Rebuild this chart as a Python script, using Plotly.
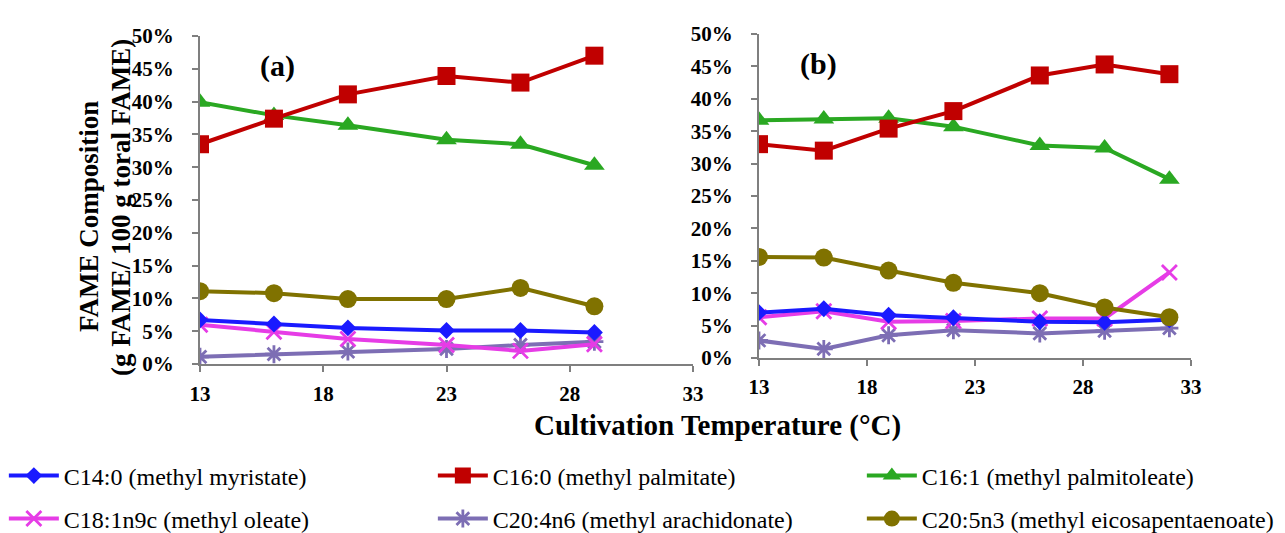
import plotly.graph_objects as go

# ---------------- data ----------------
temps_a = [13, 16, 19, 23, 26, 29]
temps_b = [13, 16, 19, 22, 26, 29, 32]

names = ["C14:0 (methyl myristate)", "C16:0 (methyl palmitate)", "C16:1 (methyl palmitoleate)",
         "C18:1n9c (methyl oleate)", "C20:4n6 (methyl arachidonate)", "C20:5n3 (methyl eicosapentaenoate)"]

a_c14_0 = [6.7, 6.1, 5.5, 5.1, 5.1, 4.8]
a_c16_0 = [33.5, 37.4, 41.1, 43.9, 42.9, 47.0]
a_c16_1 = [39.9, 37.9, 36.4, 34.2, 33.5, 30.3]
a_c18_1 = [6.0, 4.9, 3.8, 2.9, 2.0, 3.0]
a_c20_4 = [1.1, 1.5, 1.9, 2.3, 2.9, 3.4]
a_c20_5 = [11.1, 10.8, 9.9, 9.9, 11.6, 8.8]

b_c14_0 = [7.0, 7.6, 6.6, 6.2, 5.6, 5.5, 5.9]
b_c16_0 = [33.0, 32.0, 35.4, 38.1, 43.6, 45.3, 43.8]
b_c16_1 = [36.7, 36.9, 37.0, 35.7, 32.8, 32.4, 27.6]
b_c18_1 = [6.3, 7.2, 5.6, 5.7, 6.1, 6.1, 13.2]
b_c20_4 = [2.7, 1.4, 3.5, 4.3, 3.8, 4.2, 4.6]
b_c20_5 = [15.6, 15.5, 13.5, 11.6, 10.0, 7.8, 6.3]

x_ticks = [13, 18, 23, 28, 33]

# ---------------- styles ----------------
colors = ["#1a1aff", "#c00000", "#2aa822", "#e63ce6", "#7d6eb4", "#807200"]
symbols = ["diamond", "square", "triangle-up", "x-thin-open", "asterisk-open", "circle"]
sizes = [13, 18, 18, 15, 15, 18]
legend_ids = ["legend", "legend", "legend", "legend2", "legend2", "legend2"]

SERIF = "Liberation Serif"

fig = go.Figure()

panel_a = [a_c14_0, a_c16_0, a_c16_1, a_c18_1, a_c20_4, a_c20_5]
panel_b = [b_c14_0, b_c16_0, b_c16_1, b_c18_1, b_c20_4, b_c20_5]

order = [4, 3, 0, 5, 2, 1]
for i in order:
    mk = dict(symbol=symbols[i], size=sizes[i], color=colors[i],
              line=dict(color=colors[i], width=2.8 if i in (3, 4) else 0))
    fig.add_trace(go.Scatter(x=temps_a, y=panel_a[i], mode="lines+markers", name=names[i],
                             line=dict(color=colors[i], width=4), marker=mk,
                             xaxis="x", yaxis="y", legend=legend_ids[i], legendrank=i))
    fig.add_trace(go.Scatter(x=temps_b, y=panel_b[i], mode="lines+markers", name=names[i],
                             line=dict(color=colors[i], width=4), marker=mk,
                             xaxis="x2", yaxis="y2", showlegend=False))

W, H = 1285, 533

def px_x(p):
    return p / W

def px_y(p):
    return 1 - p / H

axis_common = dict(showgrid=False, zeroline=False, showline=True, linecolor="#7f7f7f", linewidth=2,
                   ticks="outside", tickcolor="#7f7f7f", ticklen=6, tickwidth=2,
                   tickfont=dict(family=SERIF, size=21, color="black", weight="bold"))

leg_common = dict(orientation="h", x=0.003, xanchor="left", yanchor="middle",
                  entrywidth=364, entrywidthmode="pixels", itemwidth=50,
                  font=dict(family=SERIF, size=24, color="black"), bgcolor="rgba(0,0,0,0)",
                  traceorder="normal")

fig.update_layout(
    width=W, height=H, margin=dict(l=0, r=0, t=0, b=0, autoexpand=False),
    paper_bgcolor="white", plot_bgcolor="white",
    font=dict(family=SERIF, color="black"),
    xaxis=dict(axis_common, domain=[px_x(200), px_x(693)], range=[13, 33], tickvals=x_ticks,
               anchor="y", ticklabelstandoff=4),
    yaxis=dict(axis_common, domain=[px_y(364), px_y(36)], range=[0, 50], dtick=5, ticksuffix="%",
               anchor="x", ticklabelstandoff=14),
    xaxis2=dict(axis_common, domain=[px_x(759), px_x(1191)], range=[13, 33], tickvals=x_ticks,
                anchor="y2", ticklabelstandoff=3),
    yaxis2=dict(axis_common, domain=[px_y(358), px_y(34)], range=[0, 50], dtick=5, ticksuffix="%",
                anchor="x2", ticklabelstandoff=14),
    legend=dict(leg_common, y=px_y(476)),
    legend2=dict(leg_common, y=px_y(519)),
    showlegend=True,
)

bold = dict(family=SERIF, color="black")
fig.add_annotation(x=px_x(258), y=px_y(47), xref="paper", yref="paper", text="<b>(a)</b>",
                   showarrow=False, font=dict(bold, size=30))
fig.add_annotation(x=px_x(818), y=px_y(45), xref="paper", yref="paper", text="<b>(b)</b>",
                   showarrow=False, font=dict(bold, size=30))
fig.add_annotation(x=px_x(717), y=px_y(444), xref="paper", yref="paper",
                   text="<b>Cultivation Temperature (°C)</b>", showarrow=False, font=dict(bold, size=29))
fig.add_annotation(x=px_x(72), y=px_y(217), xref="paper", yref="paper", text="<b>FAME Composition</b>",
                   showarrow=False, textangle=-90, font=dict(bold, size=27))
fig.add_annotation(x=px_x(104), y=px_y(208), xref="paper", yref="paper",
                   text="<b>(g FAME/ 100 g toral FAME)</b>", showarrow=False, textangle=-90,
                   font=dict(bold, size=27))

fig.write_html("out.html")
